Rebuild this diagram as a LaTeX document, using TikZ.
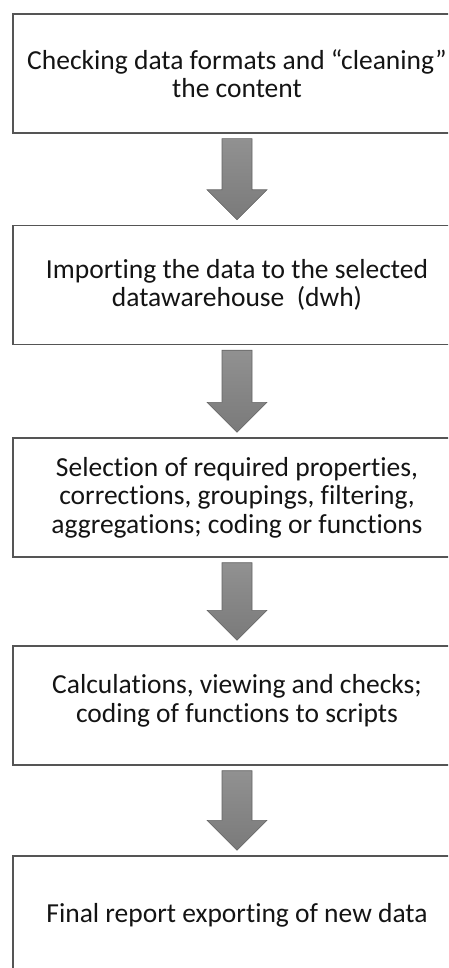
\documentclass[tikz,border=0pt]{standalone}
\usepackage{fontspec}
\setmainfont{Carlito}[Ligatures=NoCommon]
\usetikzlibrary{calc}
\definecolor{boxline}{RGB}{85,85,85}
\definecolor{arrowfill}{RGB}{122,122,122}
\definecolor{arrowtop}{RGB}{145,145,145}
\definecolor{arrowline}{RGB}{100,100,100}
\definecolor{textcol}{RGB}{20,20,20}
\tikzset{
  stagebox/.style={draw=boxline, line width=1.4pt, fill=white, rectangle,
    minimum width=448pt, minimum height=119pt, inner sep=0pt,
    align=center, text=textcol, font=\fontsize{27.5pt}{28.5pt}\selectfont},
  blockarrow/.style={top color=arrowtop, bottom color=arrowfill,
    draw=arrowline, line width=0.6pt, line join=miter}
}
% filled down-arrow from the bottom of one box to the top of the next
\newcommand\downarrowbetween[2]{%
  \path[blockarrow]
    ($(#1.south)+(-15,-5)$) -- ($(#1.south)+(15,-5)$)
    -- ($(#2.north)+(15,35)$) -- ($(#2.north)+(30,35)$)
    -- ($(#2.north)+(0,5)$)
    -- ($(#2.north)+(-30,35)$) -- ($(#2.north)+(-15,35)$) -- cycle;}
\begin{document}
\begin{tikzpicture}[x=1pt,y=1pt]
  \useasboundingbox (0,0) rectangle (448,-968);
  \clip (0,0) rectangle (448,-968);
  % the boxes run past the right edge of the page
  \node[stagebox] (s1) at (237,-73.5) {Checking data formats and “cleaning”\\the content};
  \node[stagebox] (s2) at (237,-285) {Importing the data to the selected\\datawarehouse\ \ (dwh)};
  \node[stagebox] (s3) at (237,-497.5) {Selection of required properties,\\corrections, groupings, filtering,\\aggregations; coding or functions};
  \node[stagebox, text depth=14pt] (s4) at (237,-705.5) {Calculations, viewing and checks;\\coding of functions to scripts};
  \node[stagebox] (s5) at (237,-915.5) {Final report exporting of new data};
  \downarrowbetween{s1}{s2}
  \downarrowbetween{s2}{s3}
  \downarrowbetween{s3}{s4}
  \downarrowbetween{s4}{s5}
\end{tikzpicture}
\end{document}
